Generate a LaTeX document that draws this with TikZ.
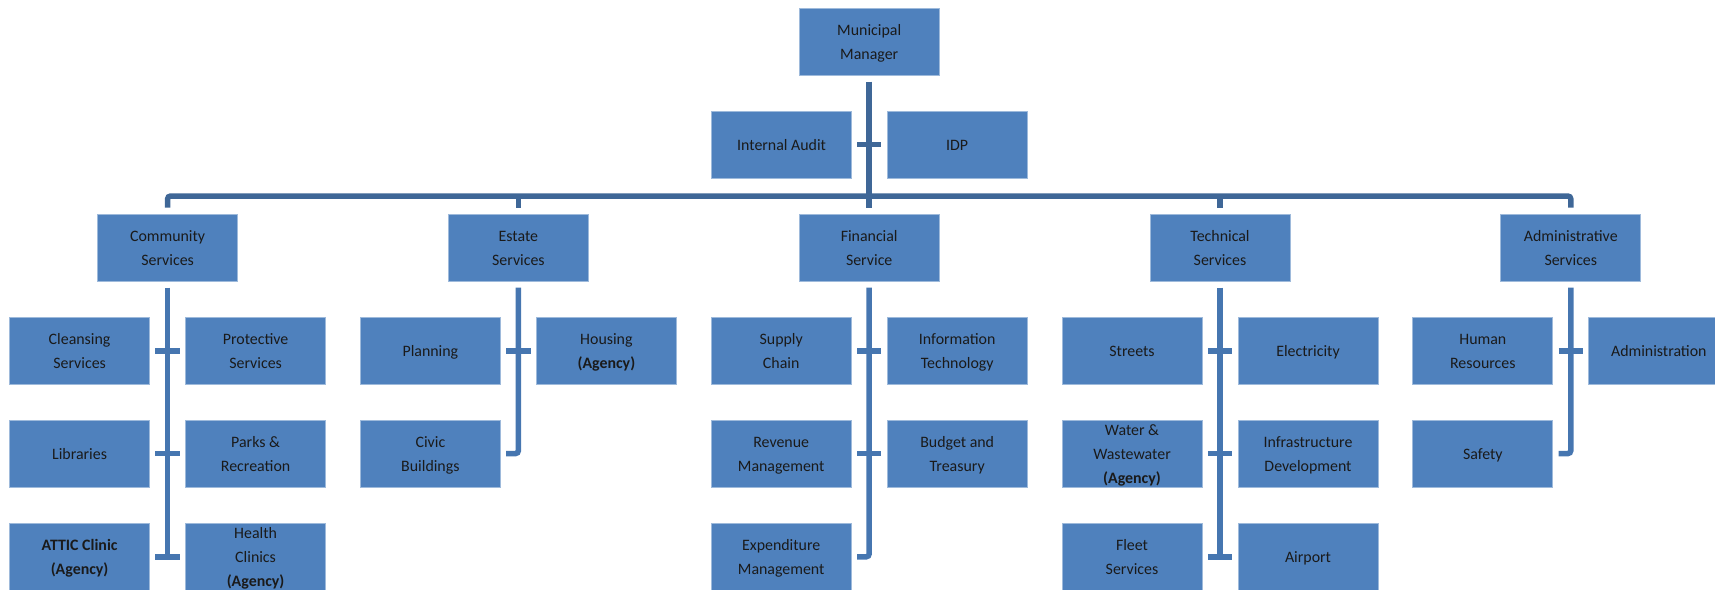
\documentclass[tikz,border=0pt]{standalone}
\usepackage{fontspec}
\setmainfont{Carlito}
\definecolor{boxblue}{HTML}{4F81BD}
\definecolor{topline}{HTML}{3F6797}
\definecolor{subline}{HTML}{4676B0}
\definecolor{txt}{HTML}{1A1A1A}
\newcommand{\mytop}{\rule{0pt}{15pt}}
\newcommand{\mybot}{\rule[-4pt]{0pt}{4pt}}
\tikzset{
  orgbox/.style={rectangle, fill=boxblue, draw=white!45!boxblue, line width=0.8pt,
    minimum width=140pt, minimum height=67pt, inner sep=0pt, align=center,
    text=txt, font=\fontsize{15.9}{24}\selectfont},
  topln/.style={draw=topline, line width=5.5pt, rounded corners=3pt},
  subln/.style={draw=subline, line width=5.5pt, rounded corners=3pt},
}
\begin{document}
\begin{tikzpicture}[x=1pt,y=-1pt]
\useasboundingbox (0,0) rectangle (1715,589);
% level 0 / 1
\node[orgbox] (mm) at (869.2,41.7) {\mytop Municipal\\Manager\mybot};
\node[orgbox] (ia) at (781.6,144.6) {\mytop Internal Audit\mybot};
\node[orgbox] (idp) at (957,144.6) {\mytop IDP\mybot};
% level 2
\node[orgbox] (cs) at (167.6,247.6) {\mytop Community\\Services\mybot};
\node[orgbox] (es) at (518.4,247.6) {\mytop Estate\\Services\mybot};
\node[orgbox] (fs) at (869.2,247.6) {\mytop Financial\\Service\mybot};
\node[orgbox] (ts) at (1220,247.6) {\mytop Technical\\Services\mybot};
\node[orgbox] (as) at (1570.8,247.6) {\mytop Administrative\\Services\mybot};
% community
\node[orgbox] (c11) at (79.6,350.8) {\mytop Cleansing\\Services\mybot};
\node[orgbox] (c12) at (255.6,350.8) {\mytop Protective\\Services\mybot};
\node[orgbox] (c21) at (79.6,453.6) {\mytop Libraries\mybot};
\node[orgbox] (c22) at (255.6,453.6) {\mytop Parks \&\\Recreation\mybot};
\node[orgbox] (c31) at (79.6,556.8) {\mytop\textbf{ATTIC Clinic}\\\textbf{(Agency)}\mybot};
\node[orgbox] (c32) at (255.6,556.8) {\mytop Health\\Clinics\\\textbf{(Agency)}\mybot};
% estate
\node[orgbox] (e11) at (430.4,350.8) {\mytop Planning\mybot};
\node[orgbox] (e12) at (606.4,350.8) {\mytop Housing\\\textbf{(Agency)}\mybot};
\node[orgbox] (e21) at (430.4,453.6) {\mytop Civic\\Buildings\mybot};
% financial
\node[orgbox] (f11) at (781.2,350.8) {\mytop Supply\\Chain\mybot};
\node[orgbox] (f12) at (957.2,350.8) {\mytop Information\\Technology\mybot};
\node[orgbox] (f21) at (781.2,453.6) {\mytop Revenue\\Management\mybot};
\node[orgbox] (f22) at (957.2,453.6) {\mytop Budget and\\Treasury\mybot};
\node[orgbox] (f31) at (781.2,556.8) {\mytop Expenditure\\Management\mybot};
% technical
\node[orgbox] (t11) at (1132,350.8) {\mytop Streets\mybot};
\node[orgbox] (t12) at (1308,350.8) {\mytop Electricity\mybot};
\node[orgbox] (t21) at (1132,453.6) {\mytop Water \&\\Wastewater\\\textbf{(Agency)}\mybot};
\node[orgbox] (t22) at (1308,453.6) {\mytop Infrastructure\\Development\mybot};
\node[orgbox] (t31) at (1132,556.8) {\mytop Fleet\\Services\mybot};
\node[orgbox] (t32) at (1308,556.8) {\mytop Airport\mybot};
% administrative
\node[orgbox] (a11) at (1482.8,350.8) {\mytop Human\\Resources\mybot};
\node[orgbox] (a12) at (1658.8,350.8) {\mytop Administration\mybot};
\node[orgbox] (a21) at (1482.8,453.6) {\mytop Safety\mybot};
% top connectors
\coordinate (busy) at (0,196);
\draw[topln, rounded corners=0pt] ([yshift=-6pt]mm.south) -- ([yshift=6pt]fs.north);
\draw[topln, rounded corners=0pt] ([xshift=5.2pt]ia.east) -- ([xshift=-5.2pt]idp.west);
\draw[topln] ([yshift=6pt]cs.north) -- (cs.north |- busy) -- (as.north |- busy) -- ([yshift=6pt]as.north);
\draw[topln, rounded corners=0pt] (es.north |- busy) -- ([yshift=6pt]es.north);
\draw[topln, rounded corners=0pt] (ts.north |- busy) -- ([yshift=6pt]ts.north);
% community
\draw[subln] ([yshift=-6pt]cs.south) -- (cs.south |- c31.east);
\draw[subln] ([xshift=5.4pt]c11.east) -- ([xshift=-5.4pt]c12.west);
\draw[subln] ([xshift=5.4pt]c21.east) -- ([xshift=-5.4pt]c22.west);
\draw[subln] ([xshift=5.4pt]c31.east) -- ([xshift=-5.4pt]c32.west);
% estate
\draw[subln] ([yshift=-6pt]es.south) -- (es.south |- e21.east) -- ([xshift=5.4pt]e21.east);
\draw[subln] ([xshift=5.4pt]e11.east) -- ([xshift=-5.4pt]e12.west);
% financial
\draw[subln] ([yshift=-6pt]fs.south) -- (fs.south |- f31.east) -- ([xshift=5.4pt]f31.east);
\draw[subln] ([xshift=5.4pt]f11.east) -- ([xshift=-5.4pt]f12.west);
\draw[subln] ([xshift=5.4pt]f21.east) -- ([xshift=-5.4pt]f22.west);
% technical
\draw[subln] ([yshift=-6pt]ts.south) -- (ts.south |- t31.east);
\draw[subln] ([xshift=5.4pt]t11.east) -- ([xshift=-5.4pt]t12.west);
\draw[subln] ([xshift=5.4pt]t21.east) -- ([xshift=-5.4pt]t22.west);
\draw[subln] ([xshift=5.4pt]t31.east) -- ([xshift=-5.4pt]t32.west);
% administrative
\draw[subln] ([yshift=-6pt]as.south) -- (as.south |- a21.east) -- ([xshift=5.4pt]a21.east);
\draw[subln] ([xshift=5.4pt]a11.east) -- ([xshift=-5.4pt]a12.west);
\end{tikzpicture}
\end{document}
